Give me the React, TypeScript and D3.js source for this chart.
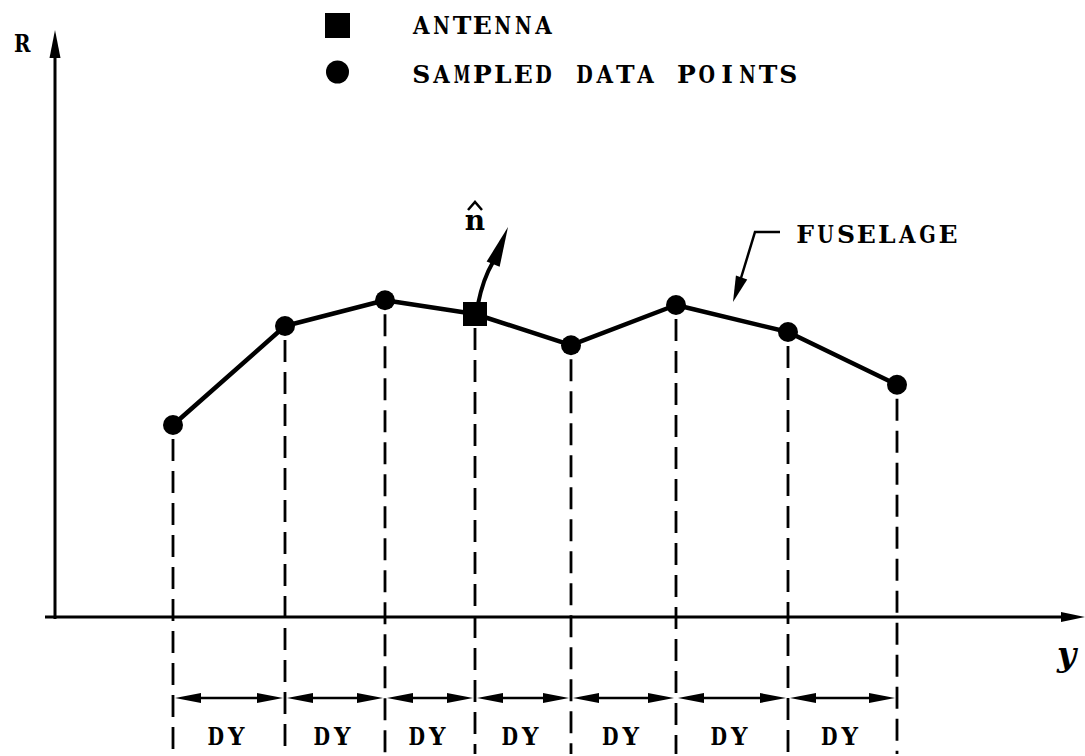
import React from "react";
import * as d3 from "d3";

// Sample positions along the y (horizontal) axis and fuselage radius R
const samplePos: number[] = [12.0, 23.2, 33.2, 42.2, 51.8, 62.3, 73.5, 84.4];
const sampleR: number[] = [32.0, 48.5, 52.8, 50.5, 45.3, 52.0, 47.5, 38.7];
const antennaIndex = 3;
const legendLabels: string[] = ["ANTENNA", "SAMPLED DATA POINTS"];
const intervalLabel = "DY";

const W = 1085;
const H = 756;
const FONT = "'DejaVu Serif', serif";
const CHAR_W = 20.4;
const WIDE = "AMWNDOHGUYRQCVX";

export default function App() {
  const x = d3.scaleLinear().domain([0, 100]).range([53, 1053]);
  const r = d3.scaleLinear().domain([0, 100]).range([617, 17]);
  const pts = samplePos.map((p, i) => [x(p), r(sampleR[i])] as [number, number]);
  const line = d3.line<[number, number]>().x((d) => d[0]).y((d) => d[1]);

  const axisX = 55;
  const axisY = 617;
  const dimY = 698;
  const dash = "22,10";

  const tri = (tipX: number, tipY: number, dx: number, dy: number, len: number, hw: number) => {
    const n = Math.hypot(dx, dy);
    const ux = dx / n, uy = dy / n;
    const bx = tipX - ux * len, by = tipY - uy * len;
    return `M${tipX},${tipY}L${bx - uy * hw},${by + ux * hw}L${bx + uy * hw},${by - ux * hw}Z`;
  };

  // typewriter-style text: each glyph centred in a fixed-width cell
  const T = (props: { x: number; y: number; s: string; center?: boolean }) => {
    const n = props.s.length;
    const x0 = props.center ? props.x - (n * CHAR_W) / 2 : props.x;
    return (
      <g>
        {props.s.split("").map((c, i) => {
          if (c === " ") return null;
          const wide = WIDE.indexOf(c) >= 0;
          return (
            <text
              key={i}
              x={x0 + (i + 0.5) * CHAR_W}
              y={props.y}
              textAnchor="middle"
              fontFamily={FONT}
              fontWeight="bold"
              fontSize={25}
              textLength={wide ? 16.5 : undefined}
              lengthAdjust={wide ? "spacingAndGlyphs" : undefined}
            >
              {c}
            </text>
          );
        })}
      </g>
    );
  };

  const a = pts[antennaIndex];

  return (
    <svg width={W} height={H} style={{ position: "absolute", left: 0, top: 0, background: "#fff" }}>
      <rect width={W} height={H} fill="#fff" />
      {/* axes */}
      <line x1={axisX} y1={axisY + 2} x2={axisX} y2={52} stroke="#000" strokeWidth={3} />
      <path d={tri(axisX, 30, 0, -1, 28, 5.5)} fill="#000" />
      <line x1={45} y1={axisY} x2={1065} y2={axisY} stroke="#000" strokeWidth={3} />
      <path d={tri(1085, axisY, 1, 0, 24, 5)} fill="#000" />
      <T x={12} y={52} s="R" />
      <text x={1057} y={666} fontFamily={FONT} fontStyle="italic" fontWeight="bold" fontSize={33}>y</text>

      {/* dashed projection lines */}
      {pts.map((p, i) => (
        <line key={"d" + i} x1={p[0]} y1={p[1] + 14} x2={p[0]} y2={754} stroke="#000" strokeWidth={2.8} strokeDasharray={dash} />
      ))}

      {/* fuselage line */}
      <path d={line(pts) || ""} fill="none" stroke="#000" strokeWidth={4.5} strokeLinejoin="round" />
      {pts.map((p, i) =>
        i === antennaIndex ? (
          <rect key={"m" + i} x={p[0] - 12} y={p[1] - 12} width={24} height={24} fill="#000" />
        ) : (
          <circle key={"m" + i} cx={p[0]} cy={p[1]} r={10} fill="#000" />
        )
      )}

      {/* normal vector */}
      <path
        d={`M${a[0] + 3},${a[1] - 10} Q${a[0] + 8},${a[1] - 35} ${a[0] + 18},${a[1] - 52}`}
        fill="none" stroke="#000" strokeWidth={4}
      />
      <path d={tri(a[0] + 33, a[1] - 87, 0.4, -1, 40, 7)} fill="#000" />
      <text x={a[0]} y={230} textAnchor="middle" fontFamily={FONT} fontWeight="bold" fontSize={28}>n</text>
      <polyline points={`${a[0] - 7},${210} ${a[0]},${202} ${a[0] + 7},${210}`} fill="none" stroke="#000" strokeWidth={2.5} />

      {/* fuselage label */}
      <polyline points="780,232 755,232 741,278" fill="none" stroke="#000" strokeWidth={2.5} />
      <path d={tri(733, 302, -0.35, 1, 26, 6)} fill="#000" />
      <T x={795} y={243} s="FUSELAGE" />

      {/* DY dimension arrows */}
      {pts.slice(0, -1).map((p, i) => {
        const x1 = p[0] + 2;
        const x2 = pts[i + 1][0] - 2;
        const mid = (p[0] + pts[i + 1][0]) / 2;
        return (
          <g key={"dy" + i}>
            <line x1={x1 + 20} y1={dimY} x2={x2 - 20} y2={dimY} stroke="#000" strokeWidth={2.5} />
            <path d={tri(x1, dimY, -1, 0, 26, 5)} fill="#000" />
            <path d={tri(x2, dimY, 1, 0, 26, 5)} fill="#000" />
            <T x={mid - 3} y={745} s={intervalLabel} center />
          </g>
        );
      })}

      {/* legend */}
      <rect x={325} y={13} width={25} height={25} fill="#000" />
      <T x={411} y={34} s={legendLabels[0]} />
      <circle cx={337.5} cy={72} r={11.5} fill="#000" />
      <T x={411} y={83} s={legendLabels[1]} />
    </svg>
  );
}
